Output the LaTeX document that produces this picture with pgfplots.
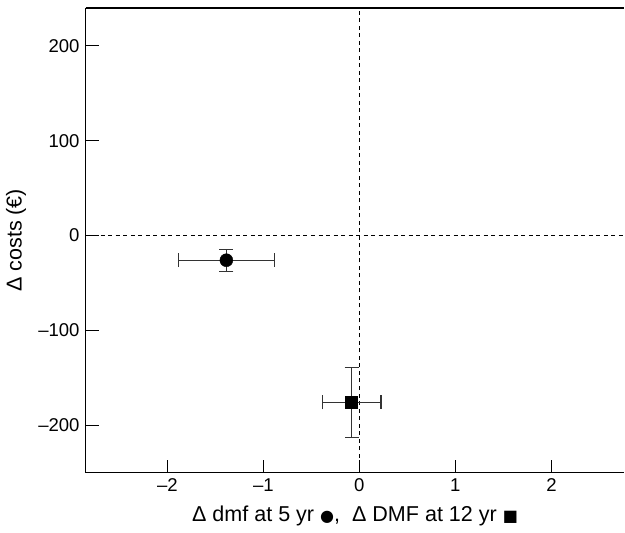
\documentclass[border=0pt]{standalone}
\usepackage{pgfplots}
\pgfplotsset{compat=1.18}
\usepackage{fontspec}
\setmainfont{Liberation Sans}
\newfontfamily\symfont{DejaVu Sans}
\begin{document}
\fontsize{18}{22}\selectfont
\begin{tikzpicture}
\begin{axis}[
  scale only axis,
  width=538pt, height=464pt,
  xmin=-2.85, xmax=2.76,
  ymin=-250, ymax=240,
  axis lines=left,
  axis line style={-, line width=1.2pt},
  tick align=inside,
  major tick length=13pt,
  tick style={line width=1pt, black},
  xtick={-2,-1,0,1,2},
  xticklabels={–2,–1,0,1,2},
  ytick={-200,-100,0,100,200},
  yticklabels={–200,–100,0,100,200},
  tick label style={font=\fontsize{18.5}{22}\selectfont},
  label style={font=\fontsize{21.5}{25}\selectfont},
  xlabel={Δ dmf at 5 yr {\symfont\fontsize{16}{18}\selectfont ●},\ \ Δ DMF at 12 yr {\symfont\fontsize{16}{18}\selectfont ■}},
  ylabel={Δ costs (€)},
  xlabel style={yshift=-2pt},
  ylabel style={yshift=0pt},
  clip=false,
]
\addplot[black, dash pattern=on 4pt off 3.5pt, line width=0.9pt, forget plot] coordinates {(0,-250) (0,240)};
\addplot[black, dash pattern=on 4pt off 3.5pt, line width=0.9pt, forget plot] coordinates {(-2.85,0) (2.76,0)};
\addplot[only marks, black, mark=*, mark size=6.5pt,
  error bars/.cd, x dir=both, x explicit, y dir=both, y explicit,
  error bar style={line width=1.1pt, black!80},
  error mark options={rotate=90, mark size=7pt, line width=1.1pt, black!80}]
  coordinates {(-1.385,-26) +- (0.5,11.5)};
\addplot[only marks, black, mark=square*, mark size=6pt,
  error bars/.cd, x dir=both, x explicit, y dir=both, y explicit,
  error bar style={line width=1.1pt, black!80},
  error mark options={rotate=90, mark size=7pt, line width=1.1pt, black!80}]
  coordinates {(-0.08,-176) +- (0.305,36.5)};
\draw[line width=1.2pt] (rel axis cs:0,1) -- (rel axis cs:1,1);
\end{axis}
\path ([yshift=8pt]current axis.north east);
\end{tikzpicture}
\end{document}
